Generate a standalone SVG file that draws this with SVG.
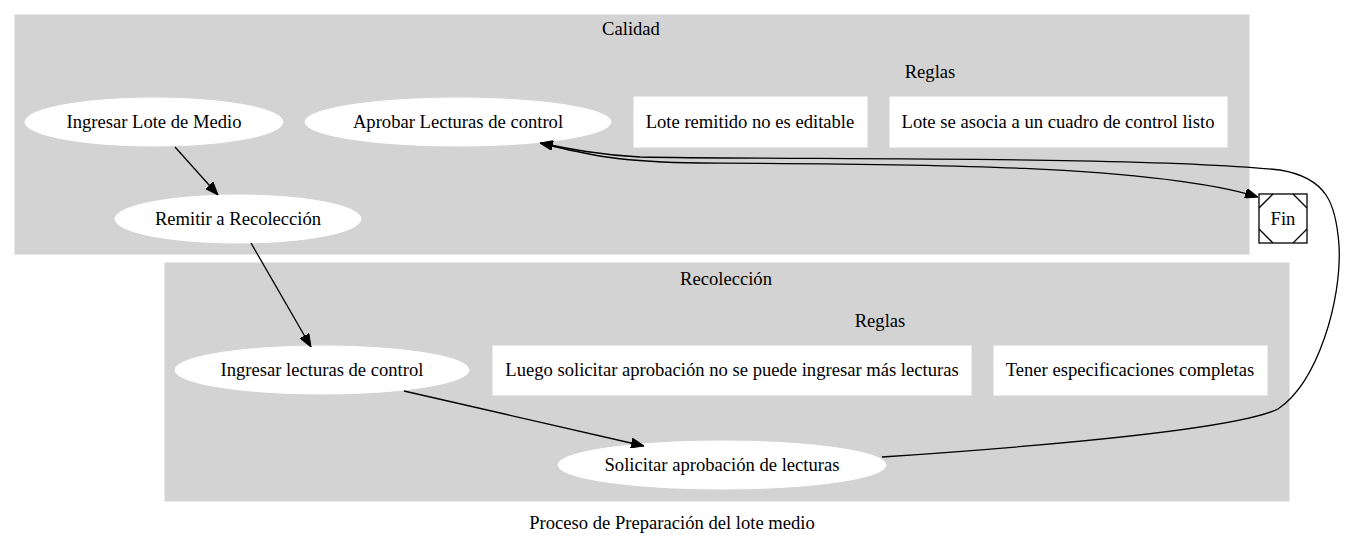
<svg xmlns="http://www.w3.org/2000/svg" width="1346" height="548" viewBox="0 0 1346 548">
<style>
text{font-family:"Liberation Serif","Times New Roman",serif;font-size:18.6px;fill:#000;text-anchor:middle}
.cl{fill:#d3d3d3;stroke:#d3d3d3}
.nd{fill:#fff;stroke:#fff}
.e{fill:none;stroke:#000;stroke-width:1.3}
.ms{fill:#fff;stroke:#000;stroke-width:1.3}
</style>
<defs>
<marker id="ah" viewBox="0 0 13 10" refX="13" refY="5" markerWidth="13" markerHeight="10" markerUnits="userSpaceOnUse" orient="auto">
<path d="M0,0 L13,5 L0,10 z" fill="#000" stroke="#000" stroke-width="1"/>
</marker>
</defs>
<rect width="1346" height="548" fill="#fff"/>
<g id="cluster_calidad">
<rect class="cl" x="15" y="15" width="1234" height="239"/>
<text x="631" y="35">Calidad</text>
<text x="930" y="78">Reglas</text>
</g>
<g id="cluster_recoleccion">
<rect class="cl" x="165" y="263" width="1124" height="238"/>
<text x="726" y="285">Recolección</text>
<text x="880" y="327">Reglas</text>
</g>
<g id="n_ingresar_lote">
<ellipse class="nd" cx="154" cy="122" rx="129" ry="24"/>
<text x="154" y="128">Ingresar Lote de Medio</text>
</g>
<g id="n_aprobar">
<ellipse class="nd" cx="458" cy="122" rx="153" ry="24"/>
<text x="458" y="128">Aprobar Lecturas de control</text>
</g>
<g id="n_regla1">
<rect class="nd" x="634" y="97" width="233" height="50"/>
<text x="750" y="128">Lote remitido no es editable</text>
</g>
<g id="n_regla2">
<rect class="nd" x="890" y="97" width="337" height="50"/>
<text x="1058" y="128">Lote se asocia a un cuadro de control listo</text>
</g>
<g id="n_remitir">
<ellipse class="nd" cx="238" cy="219" rx="123" ry="24"/>
<text x="238" y="225">Remitir a Recolección</text>
</g>
<g id="n_ingresar_lecturas">
<ellipse class="nd" cx="322" cy="370" rx="147" ry="24"/>
<text x="322" y="376">Ingresar lecturas de control</text>
</g>
<g id="n_regla3">
<rect class="nd" x="493" y="346" width="478" height="49"/>
<text x="732" y="376">Luego solicitar aprobación no se puede ingresar más lecturas</text>
</g>
<g id="n_regla4">
<rect class="nd" x="994" y="346" width="273" height="49"/>
<text x="1130" y="376">Tener especificaciones completas</text>
</g>
<g id="n_solicitar">
<ellipse class="nd" cx="722" cy="465" rx="164" ry="24"/>
<text x="722" y="471">Solicitar aprobación de lecturas</text>
</g>
<g id="n_fin">
<rect class="ms" x="1259" y="194" width="48" height="49"/>
<path class="e" d="M1259,208 L1273,194 M1293,194 L1307,208 M1259,229 L1273,243 M1293,243 L1307,229"/>
<text x="1283" y="225">Fin</text>
</g>
<g id="edges">
<path class="e" marker-end="url(#ah)" d="M175,147 L218,195"/>
<path class="e" marker-end="url(#ah)" d="M251,243 L311,347"/>
<path class="e" marker-end="url(#ah)" d="M404,391 L644,446"/>
<path class="e" marker-end="url(#ah)" d="M552,146 C590,155 620,162 700,163 C900,164 1150,164 1258,197"/>
<path class="e" marker-end="url(#ah)" d="M882,457 C1000,449 1230,432 1278,409 C1318,382 1342,300 1339,245 C1336,205 1328,178 1280,170 C1150,156 800,160 640,157 C600,155 570,149 540,143"/>
</g>
<text x="672" y="529">Proceso de Preparación del lote medio</text>
</svg>
